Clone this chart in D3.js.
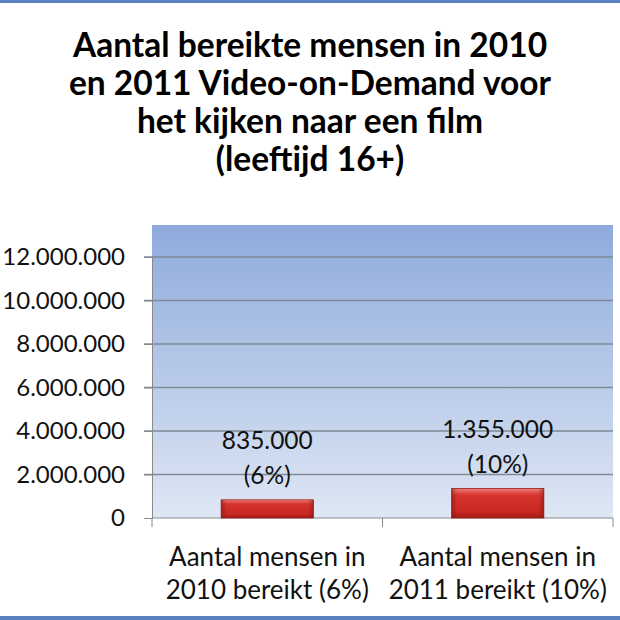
<!DOCTYPE html>
<html><head><meta charset="utf-8">
<script src="https://cdn.jsdelivr.net/npm/d3@7"></script>
<style>body{margin:0;background:#fff;}svg{display:block;}</style>
</head><body>
<script>
const titleLines = ["Aantal bereikte mensen in 2010","en 2011 Video-on-Demand voor","het kijken naar een film","(leeftijd 16+)"];
const categories = ["Aantal mensen in 2010 bereikt (6%)","Aantal mensen in 2011 bereikt (10%)"];
const categoryLines = [["Aantal mensen in","2010 bereikt (6%)"],["Aantal mensen in","2011 bereikt (10%)"]];
const values = [835000, 1355000];
const valueLabels = [["835.000","(6%)"],["1.355.000","(10%)"]];
const tickValues = [0,2000000,4000000,6000000,8000000,10000000,12000000];
const tickLabels = ["0","2.000.000","4.000.000","6.000.000","8.000.000","10.000.000","12.000.000"];

const W=620,H=620;
const FONT="Lato, 'Open Sans', sans-serif";
const svg=d3.select("body").append("svg").attr("width",W).attr("height",H);
const defs=svg.append("defs");
const bg=defs.append("linearGradient").attr("id","bg").attr("x1",0).attr("y1",0).attr("x2",0).attr("y2",1);
bg.append("stop").attr("offset","0%").attr("stop-color","#8eaadc");
bg.append("stop").attr("offset","100%").attr("stop-color","#dfe7f4");
const bar=defs.append("linearGradient").attr("id","bar").attr("x1",0).attr("y1",0).attr("x2",0).attr("y2",1);
bar.append("stop").attr("offset","0%").attr("stop-color","#ee7e78");
bar.append("stop").attr("offset","22%").attr("stop-color","#d6352e");
bar.append("stop").attr("offset","80%").attr("stop-color","#c82722");
bar.append("stop").attr("offset","100%").attr("stop-color","#a01a16");
const barH=defs.append("linearGradient").attr("id","barH").attr("x1",0).attr("y1",0).attr("x2",1).attr("y2",0);
barH.append("stop").attr("offset","0%").attr("stop-color","#7a1410").attr("stop-opacity",0.5);
barH.append("stop").attr("offset","6%").attr("stop-color","#7a1410").attr("stop-opacity",0);
barH.append("stop").attr("offset","94%").attr("stop-color","#7a1410").attr("stop-opacity",0);
barH.append("stop").attr("offset","100%").attr("stop-color","#7a1410").attr("stop-opacity",0.5);

// borders
svg.append("rect").attr("x",0).attr("y",0).attr("width",W).attr("height",3).attr("fill","#5b82c0");
svg.append("rect").attr("x",0).attr("y",616).attr("width",W).attr("height",4).attr("fill","#5b82c0");

// title
svg.append("g").selectAll("text").data(titleLines).join("text")
  .attr("x",310).attr("y",(d,i)=>57+i*38).attr("text-anchor","middle")
  .attr("font-family",FONT).attr("font-weight","bold").attr("font-size",33.5)
  .attr("fill","#000").text(d=>d);

const left=152,right=613,plotTop=225,bottom=518;
const y=d3.scaleLinear().domain([0,12000000]).range([bottom,257]);
const x=d3.scaleBand().domain(categories).range([left,right]).paddingInner(0).paddingOuter(0);

svg.append("rect").attr("x",left).attr("y",plotTop).attr("width",right-left).attr("height",bottom-plotTop).attr("fill","url(#bg)");

// gridlines
svg.append("g").selectAll("line").data(tickValues.slice(1)).join("line")
  .attr("x1",144).attr("x2",right).attr("y1",d=>y(d)).attr("y2",d=>y(d))
  .attr("stroke","#7f8a99").attr("stroke-width",1.3);

// y axis
const yAxis=d3.axisLeft(y).tickValues(tickValues).tickFormat((d,i)=>tickLabels[i]).tickSize(8).tickPadding(19);
const ga=svg.append("g").attr("transform",`translate(${left},0)`).call(yAxis);
ga.select(".domain").attr("stroke","#8a8a8a");
ga.selectAll(".tick line").attr("stroke","#8a8a8a");
ga.selectAll("text").attr("font-family",FONT).attr("font-size",24).attr("fill","#111");

// x axis
svg.append("line").attr("x1",left).attr("x2",right).attr("y1",bottom).attr("y2",bottom).attr("stroke","#8a8a8a");
const divs=[left, x(categories[1]), right];
svg.append("g").selectAll("line").data(divs).join("line")
  .attr("x1",d=>d).attr("x2",d=>d).attr("y1",bottom).attr("y2",bottom+9).attr("stroke","#8a8a8a");

// bars
const bw=x.bandwidth()*0.4;
const gb=svg.append("g");
gb.selectAll("rect.b").data(values).join("rect").attr("class","b")
  .attr("x",(d,i)=>x(categories[i])+x.bandwidth()/2-bw/2).attr("width",bw)
  .attr("y",d=>y(d)).attr("height",d=>bottom-y(d)).attr("fill","url(#bar)").attr("stroke","#9a1d18").attr("stroke-width",0.8);
gb.selectAll("rect.h").data(values).join("rect").attr("class","h")
  .attr("x",(d,i)=>x(categories[i])+x.bandwidth()/2-bw/2).attr("width",bw)
  .attr("y",d=>y(d)).attr("height",d=>bottom-y(d)).attr("fill","url(#barH)");

// value labels
values.forEach((v,i)=>{
  const cx=x(categories[i])+x.bandwidth()/2;
  const t=svg.append("text").attr("text-anchor","middle")
    .attr("font-family",FONT).attr("font-size",24.5).attr("fill","#111");
  valueLabels[i].forEach((l,j)=>t.append("tspan").attr("x",cx).attr("y",y(v)-51+j*35).text(l));
});

// category labels
categoryLines.forEach((ls,i)=>{
  const cx=x(categories[i])+x.bandwidth()/2;
  const t=svg.append("text").attr("text-anchor","middle")
    .attr("font-family",FONT).attr("font-size",26).attr("fill","#111");
  ls.forEach((l,j)=>t.append("tspan").attr("x",cx).attr("y",566+j*33).text(l));
});
</script>
</body></html>
